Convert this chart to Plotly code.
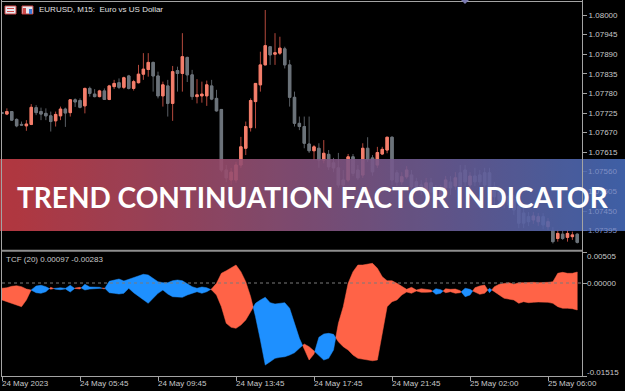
import base64
import plotly.graph_objects as go

W, H = 625, 391

# ---------------- data ----------------
bar_index = list(range(119))

open_ = [1.07726,1.07722,1.07729,1.07707,1.07693,1.07689,1.07693,1.07740,1.07729,1.07724,
         1.07717,1.07703,1.07717,1.07736,1.07726,1.07762,1.07760,1.07745,1.07794,1.07778,
         1.07771,1.07787,1.07763,1.07799,1.07810,1.07797,1.07829,1.07794,1.07810,1.07834,
         1.07847,1.07867,1.07829,1.07773,1.07801,1.07752,1.07844,1.07836,1.07881,1.07832,
         1.07771,1.07773,1.07773,1.07801,1.07766,1.07735,1.07565,1.07537,1.07537,1.07579,
         1.07626,1.07684,1.07757,1.07804,1.07860,1.07911,1.07890,1.07893,1.07905,1.07860,
         1.07769,1.07696,1.07687,1.07638,1.07619,1.07626,1.07593,1.07609,1.07585,1.07571,
         1.07537,1.07537,1.07602,1.07565,1.07551,1.07626,1.07599,1.07579,1.07610,1.07621,
         1.07657,1.07557,1.07532,1.07546,1.07551,1.07532,1.07523,1.07509,1.07529,1.07509,
         1.07486,1.07515,1.07531,1.07520,1.07557,1.07565,1.07523,1.07548,1.07551,1.07557,
         1.07557,1.07518,1.07503,1.07475,1.07492,1.07481,1.07462,1.07444,1.07434,1.07425,
         1.07420,1.07434,1.07406,1.07395,1.07373,1.07385,1.07376,1.07378,1.07385]
high = [1.07728,1.07738,1.07730,1.07710,1.07701,1.07705,1.07750,1.07747,1.07740,1.07738,
        1.07729,1.07729,1.07743,1.07740,1.07763,1.07766,1.07766,1.07796,1.07799,1.07792,
        1.07790,1.07794,1.07804,1.07818,1.07822,1.07827,1.07832,1.07818,1.07860,1.07893,
        1.07893,1.07869,1.07841,1.07813,1.07818,1.07857,1.07855,1.07949,1.07883,1.07846,
        1.07820,1.07813,1.07816,1.07818,1.07790,1.07736,1.07579,1.07571,1.07588,1.07658,
        1.07701,1.07766,1.07809,1.07897,1.08014,1.07912,1.07949,1.07939,1.07911,1.07874,
        1.07785,1.07715,1.07715,1.07715,1.07635,1.07640,1.07649,1.07621,1.07599,1.07613,
        1.07565,1.07610,1.07610,1.07579,1.07640,1.07657,1.07607,1.07630,1.07630,1.07658,
        1.07659,1.07565,1.07559,1.07576,1.07565,1.07543,1.07537,1.07543,1.07543,1.07523,
        1.07523,1.07548,1.07548,1.07559,1.07579,1.07579,1.07559,1.07571,1.07565,1.07571,
        1.07571,1.07531,1.07515,1.07503,1.07509,1.07495,1.07472,1.07458,1.07447,1.07447,
        1.07444,1.07444,1.07430,1.07405,1.07397,1.07394,1.07397,1.07392,1.07387]
low = [1.07722,1.07719,1.07703,1.07685,1.07689,1.07675,1.07691,1.07719,1.07705,1.07705,
       1.07673,1.07687,1.07705,1.07686,1.07715,1.07742,1.07738,1.07724,1.07771,1.07769,
       1.07769,1.07762,1.07761,1.07792,1.07792,1.07792,1.07791,1.07788,1.07808,1.07818,
       1.07827,1.07785,1.07766,1.07743,1.07715,1.07703,1.07785,1.07785,1.07812,1.07762,
       1.07752,1.07754,1.07745,1.07761,1.07729,1.07559,1.07531,1.07523,1.07529,1.07571,
       1.07607,1.07673,1.07682,1.07785,1.07859,1.07860,1.07860,1.07888,1.07850,1.07743,
       1.07687,1.07677,1.07626,1.07613,1.07593,1.07571,1.07584,1.07565,1.07559,1.07515,
       1.07509,1.07531,1.07548,1.07537,1.07543,1.07588,1.07549,1.07571,1.07607,1.07612,
       1.07523,1.07520,1.07523,1.07540,1.07509,1.07503,1.07495,1.07492,1.07486,1.07467,
       1.07472,1.07503,1.07495,1.07509,1.07509,1.07520,1.07509,1.07520,1.07523,1.07509,
       1.07481,1.07467,1.07464,1.07458,1.07453,1.07439,1.07402,1.07402,1.07408,1.07414,
       1.07408,1.07399,1.07397,1.07359,1.07364,1.07369,1.07364,1.07369,1.07359]
close = [1.07724,1.07729,1.07705,1.07689,1.07691,1.07694,1.07741,1.07726,1.07722,1.07717,
         1.07701,1.07721,1.07736,1.07725,1.07762,1.07756,1.07741,1.07794,1.07780,1.07771,
         1.07787,1.07763,1.07801,1.07808,1.07797,1.07824,1.07794,1.07813,1.07834,1.07848,
         1.07867,1.07829,1.07773,1.07804,1.07752,1.07841,1.07836,1.07883,1.07832,1.07771,
         1.07776,1.07778,1.07804,1.07764,1.07731,1.07565,1.07543,1.07559,1.07579,1.07630,
         1.07687,1.07760,1.07808,1.07860,1.07914,1.07888,1.07894,1.07907,1.07860,1.07769,
         1.07696,1.07687,1.07640,1.07619,1.07630,1.07593,1.07612,1.07574,1.07571,1.07523,
         1.07523,1.07602,1.07556,1.07543,1.07626,1.07595,1.07560,1.07614,1.07623,1.07657,
         1.07537,1.07531,1.07546,1.07565,1.07518,1.07514,1.07509,1.07529,1.07503,1.07481,
         1.07515,1.07537,1.07515,1.07543,1.07517,1.07532,1.07548,1.07532,1.07532,1.07523,
         1.07490,1.07490,1.07481,1.07492,1.07467,1.07453,1.07416,1.07416,1.07420,1.07436,
         1.07434,1.07411,1.07420,1.07364,1.07387,1.07373,1.07387,1.07383,1.07362]

# TCF buffers: filled tomato where tcf_a > tcf_b, dodger blue otherwise
tcf_a = [-0.00086,-0.00077,-0.00054,-0.00044,-0.00060,-0.00098,-0.00116,-0.00158,-0.00168,-0.00142,
         -0.00070,-0.00103,-0.00109,-0.00096,-0.00147,-0.00082,-0.00070,-0.00114,-0.00098,-0.00093,
         -0.00093,-0.00077,-0.00158,-0.00168,-0.00179,-0.00168,-0.00086,-0.00158,-0.00212,-0.00266,
         -0.00331,-0.00249,-0.00168,-0.00114,-0.00179,-0.00223,-0.00233,-0.00233,-0.00196,-0.00168,
         -0.00142,-0.00168,-0.00142,-0.00095,-0.00005,0.00158,0.00200,0.00240,0.00293,0.00184,
         0.00021,-0.00223,-0.00549,-0.00929,-0.01337,-0.01283,-0.01227,-0.01211,-0.01201,-0.01174,
         -0.01136,-0.01064,-0.00994,-0.01038,-0.01108,-0.01174,-0.01255,-0.01227,-0.01092,-0.00657,
         -0.00386,-0.00005,0.00184,0.00293,0.00293,0.00310,0.00321,0.00240,0.00103,0.00037,
         0.00037,-0.00005,-0.00060,-0.00103,-0.00070,-0.00114,-0.00093,-0.00103,-0.00114,-0.00184,
         -0.00168,-0.00093,-0.00103,-0.00098,-0.00125,-0.00223,-0.00196,-0.00077,-0.00049,-0.00033,
         -0.00158,-0.00060,-0.00021,-0.00005,0.00005,-0.00021,0.00005,0.00005,0.00011,0.00011,
         0.00005,0.00005,0.00011,0.00021,0.00158,0.00174,0.00158,0.00158,0.00179]
tcf_b = [-0.00277,-0.00305,-0.00331,-0.00359,-0.00386,-0.00277,-0.00112,-0.00049,-0.00037,-0.00060,
         -0.00103,-0.00082,-0.00077,-0.00088,-0.00037,-0.00093,-0.00098,-0.00021,-0.00065,-0.00065,
         -0.00070,-0.00098,0.00028,0.00049,0.00065,0.00033,0.00060,0.00093,0.00114,0.00142,
         0.00130,0.00077,0.00021,0.00005,0.00005,0.00037,0.00049,0.00037,-0.00005,-0.00060,
         -0.00086,-0.00065,-0.00077,-0.00112,-0.00196,-0.00386,-0.00657,-0.00722,-0.00738,-0.00685,
         -0.00603,-0.00468,-0.00331,-0.00277,-0.00233,-0.00321,-0.00342,-0.00331,-0.00321,-0.00412,
         -0.00657,-0.00901,-0.01076,-0.01255,-0.01157,-0.00885,-0.00831,-0.00820,-0.00836,-0.00957,
         -0.01038,-0.01092,-0.01174,-0.01227,-0.01244,-0.01255,-0.01267,-0.01255,-0.00820,-0.00386,
         -0.00305,-0.00277,-0.00196,-0.00147,-0.00168,-0.00130,-0.00152,-0.00152,-0.00147,-0.00093,
         -0.00109,-0.00158,-0.00142,-0.00168,-0.00158,-0.00086,-0.00103,-0.00152,-0.00184,-0.00168,
         -0.00086,-0.00142,-0.00196,-0.00249,-0.00266,-0.00277,-0.00331,-0.00305,-0.00321,-0.00315,
         -0.00310,-0.00310,-0.00315,-0.00331,-0.00386,-0.00412,-0.00412,-0.00419,-0.00440]

price_ticks = [1.08000,1.07945,1.07890,1.07835,1.07780,1.07725,1.07670,1.07615,1.07560,1.07505,1.07450,1.07395]
price_ticks_under_banner = [1.07560, 1.07505, 1.07450, 1.07395]
tcf_ticks = [0.00505, 0.00000, -0.01515]
tcf_tick_labels = ["0.00505", "0.00000", "-0.01515"]
time_tick_index = [0, 16, 32, 48, 64, 80, 96, 112]
time_tick_labels = ["24 May 2023", "24 May 05:45", "24 May 09:45", "24 May 13:45",
                    "24 May 17:45", "24 May 21:45", "25 May 02:00", "25 May 06:00"]
header_text = "EURUSD, M15: \u00a0Euro vs US Dollar"
indicator_text = "TCF (20) 0.00097 -0.00283"
banner_text = "TREND CONTINUATION FACTOR INDICATOR"

# ---------------- styling ----------------
BULL = "#F47F6C"
BEAR = "#6C737A"
BULL_WICK = "#B4493D"
BEAR_WICK = "#585E64"
TCF_UP = "#FF6347"
TCF_DN = "#1E90FF"
FRAME = "#A4A4A4"
TXT = "#C8C8C8"
TXT_FADED = "#7F8EC4"
FONT = "Liberation Sans, Arial, sans-serif"


def px(x):
    return x / W


def py(y):
    return 1 - y / H


fig = go.Figure()

# wicks (full OHLC, dim colours)
fig.add_trace(go.Candlestick(
    x=bar_index, open=open_, high=high, low=low, close=close,
    increasing=dict(line=dict(color=BULL_WICK, width=1), fillcolor=BULL_WICK),
    decreasing=dict(line=dict(color=BEAR_WICK, width=1), fillcolor=BEAR_WICK),
    whiskerwidth=0, hoverinfo="skip", showlegend=False, xaxis="x", yaxis="y"))

# bodies
body_hi = [max(o, c) for o, c in zip(open_, close)]
body_lo = [min(o, c) for o, c in zip(open_, close)]
fig.add_trace(go.Candlestick(
    x=bar_index, open=open_, high=body_hi, low=body_lo, close=close,
    increasing=dict(line=dict(color=BULL, width=1), fillcolor=BULL),
    decreasing=dict(line=dict(color=BEAR, width=1), fillcolor=BEAR),
    whiskerwidth=0, hoverinfo="skip", showlegend=False, xaxis="x", yaxis="y"))

# TCF filling between the two buffers
red_x, red_y, blue_x, blue_y = [], [], [], []
segs = []
cur = [(bar_index[0], tcf_a[0], tcf_b[0])]
sign = 1 if tcf_a[0] >= tcf_b[0] else -1
for i in range(1, len(bar_index)):
    s = 1 if tcf_a[i] >= tcf_b[i] else -1
    if s != sign:
        d0 = tcf_a[i - 1] - tcf_b[i - 1]
        d1 = tcf_a[i] - tcf_b[i]
        t = d0 / (d0 - d1)
        xc = bar_index[i - 1] + t * (bar_index[i] - bar_index[i - 1])
        yc = tcf_a[i - 1] + t * (tcf_a[i] - tcf_a[i - 1])
        cur.append((xc, yc, yc))
        segs.append((sign, cur))
        cur = [(xc, yc, yc)]
        sign = s
    cur.append((bar_index[i], tcf_a[i], tcf_b[i]))
segs.append((sign, cur))
for s, pts in segs:
    xs = [p[0] for p in pts] + [p[0] for p in reversed(pts)]
    ys = [p[1] for p in pts] + [p[2] for p in reversed(pts)]
    if s > 0:
        red_x += xs + [None]
        red_y += ys + [None]
    else:
        blue_x += xs + [None]
        blue_y += ys + [None]

fig.add_trace(go.Scatter(x=red_x, y=red_y, mode="lines", fill="toself", fillcolor=TCF_UP,
                         line=dict(color=TCF_UP, width=0.5), hoverinfo="skip",
                         showlegend=False, xaxis="x", yaxis="y2"))
fig.add_trace(go.Scatter(x=blue_x, y=blue_y, mode="lines", fill="toself", fillcolor=TCF_DN,
                         line=dict(color=TCF_DN, width=0.5), hoverinfo="skip",
                         showlegend=False, xaxis="x", yaxis="y2"))

# ---------------- layout ----------------
x_right = (582 - 2) / 4.875
main_lo = 1.08 - (249 - 15) * 0.00055 / 19.6
main_hi = 1.08 + (15 - 2) * 0.00055 / 19.6

shapes = [
    # frame
    dict(type="line", xref="paper", yref="paper", x0=px(1.5), x1=px(1.5), y0=py(0), y1=py(377),
         line=dict(color=FRAME, width=1)),
    dict(type="line", xref="paper", yref="paper", x0=px(582.5), x1=px(582.5), y0=py(0), y1=py(377),
         line=dict(color=FRAME, width=1)),
    dict(type="line", xref="paper", yref="paper", x0=px(1.5), x1=px(582.5), y0=py(1.5), y1=py(1.5),
         line=dict(color=FRAME, width=1)),
    dict(type="line", xref="paper", yref="paper", x0=px(1.5), x1=px(582.5), y0=py(250.8), y1=py(250.8),
         line=dict(color="#8E8E8E", width=2)),
    dict(type="line", xref="paper", yref="paper", x0=px(1.5), x1=px(582.5), y0=py(376.5), y1=py(376.5),
         line=dict(color=FRAME, width=1)),
    # zero level of the indicator
    dict(type="line", xref="paper", yref="y2", x0=px(2), x1=px(582), y0=0, y1=0,
         line=dict(color="#7A7A7A", width=1, dash="dot")),
    # shift marker at the top
    dict(type="path", xref="paper", yref="paper",
         path=f"M {px(461)} {py(0)} L {px(469)} {py(0)} L {px(465)} {py(4)} Z",
         fillcolor="#7A7AB0", line=dict(width=0)),
    # header icons
    dict(type="rect", xref="paper", yref="paper", x0=px(5), x1=px(16), y0=py(14), y1=py(6),
         fillcolor="#E8E8F0", line=dict(color="#D04848", width=1)),
    dict(type="rect", xref="paper", yref="paper", x0=px(7), x1=px(14), y0=py(9), y1=py(8),
         fillcolor="#D04848", line=dict(width=0)),
    dict(type="rect", xref="paper", yref="paper", x0=px(7), x1=px(14), y0=py(12), y1=py(11),
         fillcolor="#D04848", line=dict(width=0)),
    dict(type="rect", xref="paper", yref="paper", x0=px(22), x1=px(33), y0=py(14), y1=py(6),
         fillcolor="#E8E8F0", line=dict(color="#C04040", width=1)),
    dict(type="rect", xref="paper", yref="paper", x0=px(23), x1=px(26), y0=py(14), y1=py(8),
         fillcolor="#D04848", line=dict(width=0)),
    dict(type="rect", xref="paper", yref="paper", x0=px(29), x1=px(32), y0=py(14), y1=py(9),
         fillcolor="#3C78D8", line=dict(width=0)),
]

annotations = []
for idx, lab in zip(time_tick_index, time_tick_labels):
    annotations.append(dict(x=idx, xref="x", y=py(383), yref="paper", text=lab, showarrow=False,
                            xanchor="left", yanchor="middle", xshift=-2,
                            font=dict(family=FONT, size=8, color=TXT)))
tcf_shift = [-4, 0, 4]
for v, lab, sh in zip(tcf_ticks, tcf_tick_labels, tcf_shift):
    annotations.append(dict(x=px(585), xref="paper", y=v, yref="y2", text=lab, showarrow=False,
                            xanchor="left", yanchor="middle", yshift=sh,
                            font=dict(family=FONT, size=8, color=TXT)))
# price labels seen faintly through the banner
for v in price_ticks_under_banner:
    annotations.append(dict(x=px(586), xref="paper", y=v, yref="y", text=f"{v:.5f}",
                            showarrow=False, xanchor="left", yanchor="middle",
                            font=dict(family=FONT, size=8, color=TXT_FADED)))
annotations.append(dict(x=px(4), xref="paper", y=py(259), yref="paper", text=indicator_text,
                        showarrow=False, xanchor="left", yanchor="middle",
                        font=dict(family=FONT, size=8, color=TXT)))
annotations.append(dict(x=px(37), xref="paper", y=py(10), yref="paper", text=header_text,
                        showarrow=False, xanchor="left", yanchor="middle",
                        font=dict(family=FONT, size=8, color="#E0E0E0")))
annotations.append(dict(x=0.5, xref="paper", y=py(197), yref="paper", text=banner_text,
                        showarrow=False, xanchor="center", yanchor="middle",
                        font=dict(family="Lato, sans-serif", size=28, color="#FFFFFF", weight=700)))

svg = ('<svg xmlns="http://www.w3.org/2000/svg" width="625" height="72" viewBox="0 0 625 72" '
       'preserveAspectRatio="none"><defs><linearGradient id="g" x1="0" y1="0" x2="1" y2="0">'
       '<stop offset="0" stop-color="#C63D45"/><stop offset="1" stop-color="#456AB7"/>'
       '</linearGradient></defs><rect width="625" height="72" fill="url(#g)"/></svg>')
banner_src = "data:image/svg+xml;base64," + base64.b64encode(svg.encode()).decode()

tick_text = ["" if v in price_ticks_under_banner else f"{v:.5f}" for v in price_ticks]

fig.update_layout(
    width=W, height=H, margin=dict(l=0, r=0, t=0, b=0),
    paper_bgcolor="#000000", plot_bgcolor="#000000",
    showlegend=False, boxgap=0.3, boxgroupgap=0.3,
    xaxis=dict(domain=[px(2), px(582)], range=[0, x_right], anchor="y2",
               showgrid=False, zeroline=False, showline=False,
               tickvals=time_tick_index, ticks="outside", ticklen=4, tickcolor=FRAME,
               showticklabels=False, rangeslider=dict(visible=False), fixedrange=True),
    yaxis=dict(domain=[py(249), py(2)], range=[main_lo, main_hi], side="right", anchor="x",
               showgrid=False, zeroline=False, showline=False,
               tickvals=price_ticks, ticktext=tick_text, ticks="outside", ticklen=4,
               tickcolor=FRAME, tickfont=dict(family=FONT, size=8, color=TXT)),
    yaxis2=dict(domain=[py(376), py(252)], range=[tcf_ticks[2], tcf_ticks[0]], side="right",
                anchor="x", showgrid=False, zeroline=False, showline=False,
                tickvals=tcf_ticks, ticks="outside", ticklen=4, tickcolor=FRAME,
                showticklabels=False),
    shapes=shapes, annotations=annotations,
    images=[dict(source=banner_src, xref="paper", yref="paper", x=0, y=py(159),
                 sizex=1, sizey=72 / H, xanchor="left", yanchor="top",
                 sizing="stretch", opacity=0.9, layer="above")],
)

fig.write_html("out.html")
